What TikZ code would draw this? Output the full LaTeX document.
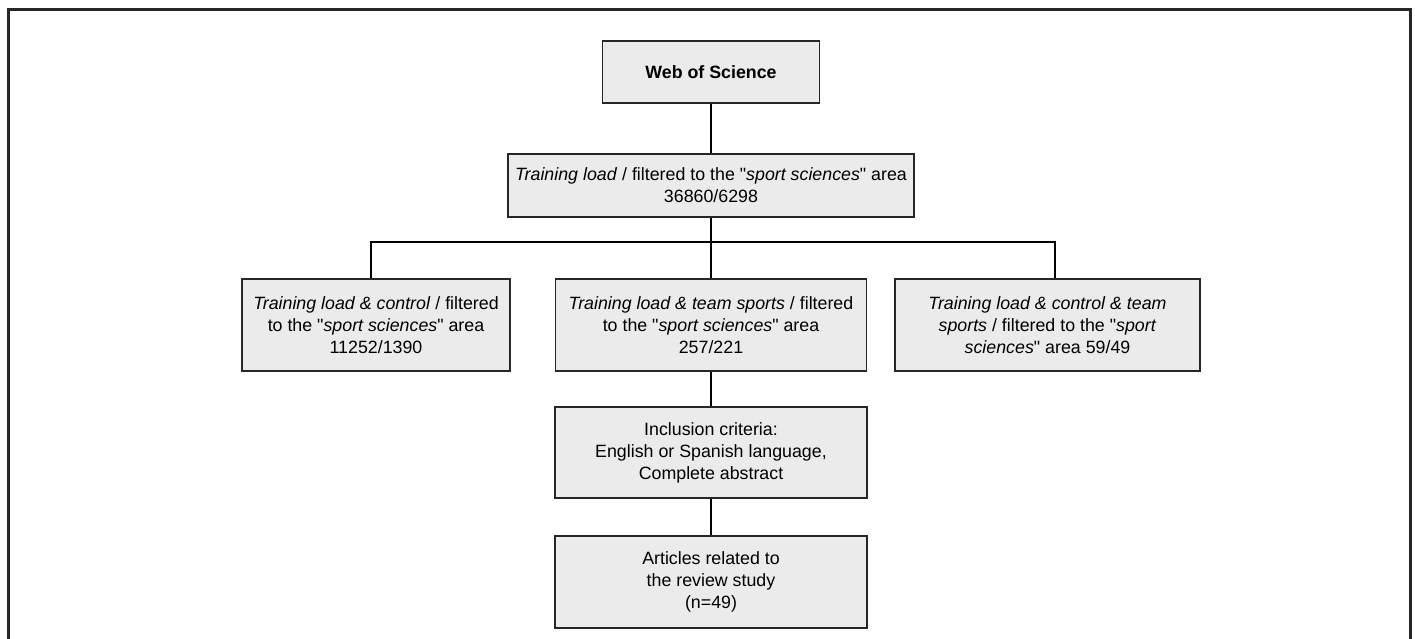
\documentclass[tikz,border=0pt]{standalone}
\usepackage{fontspec}
\setmainfont{Liberation Sans}[Ligatures=TeXOff]
\begin{document}
\begin{tikzpicture}[x=1pt,y=1pt,
  box/.style={draw=black!85,line width=1.4pt,fill=black!8,align=center,inner sep=0pt,
    font=\fontsize{17.8}{22}\selectfont},
  link/.style={line width=2.6pt,black}]
\useasboundingbox (0,0) rectangle (1415,-639);
\draw[line width=3pt,black!85] (8,-645) -- (8,-10) -- (1410,-10) -- (1410,-645);
\node[box,minimum width=217,minimum height=62] (wos) at (711,-72) {\textbf{Web of Science}};
\node[box,minimum width=406,minimum height=63] (tl) at (711,-185.5)
  {\textit{Training load} / filtered to the "\textit{sport sciences}" area\\36860/6298};
\node[box,minimum width=268,minimum height=92] (c1) at (376,-325)
  {\textit{Training load \& control} / filtered\\to the "\textit{sport sciences}" area\\11252/1390};
\node[box,minimum width=311,minimum height=92] (c2) at (711,-325)
  {\textit{Training load \& team sports} / filtered\\to the "\textit{sport sciences}" area\\257/221};
\node[box,minimum width=305,minimum height=92] (c3) at (1047.5,-325)
  {\textit{Training load \& control \& team}\\\textit{sports} / filtered to the "\textit{sport}\\\textit{sciences}" area 59/49};
\node[box,minimum width=312,minimum height=91] (inc) at (711,-452.5)
  {Inclusion criteria:\\English or Spanish language,\\Complete abstract};
\node[box,minimum width=312,minimum height=92] (art) at (711,-582)
  {Articles related to\\the review study\\(n=49)};
\coordinate (hl) at (371,-242);
\coordinate (hr) at (1055,-242);
\coordinate (hm) at (711,-242);
\draw[link] (wos.south) -- (tl.north);
\draw[link] (tl.south) -- (hm);
\draw[link] (hl |- c1.north) -- (hl) -- (hr) -- (hr |- c3.north);
\draw[link] (hm) -- (c2.north);
\draw[link] (c2.south) -- (inc.north);
\draw[link] (inc.south) -- (art.north);
\end{tikzpicture}
\end{document}
